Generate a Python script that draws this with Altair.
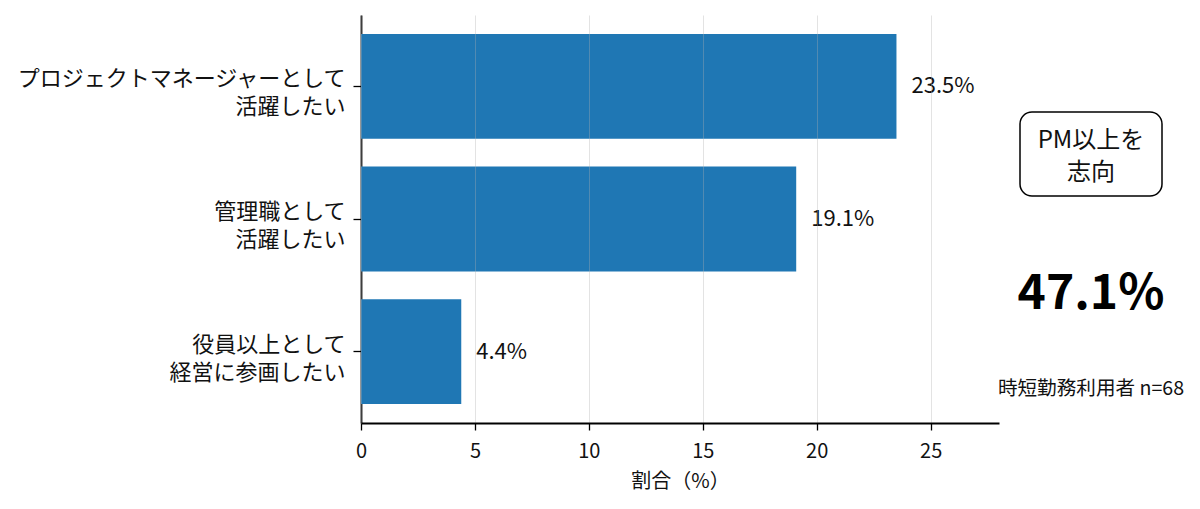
import altair as alt
import pandas as pd

categories = [
    "プロジェクトマネージャーとして\n活躍したい",
    "管理職として\n活躍したい",
    "役員以上として\n経営に参画したい",
]
values = [23.5, 19.1, 4.4]
x_ticks = [0, 5, 10, 15, 20, 25]
x_title = "割合（%）"
box_line1 = "PM以上を"
box_line2 = "志向"
big_text = "47.1%"
note_text = "時短勤務利用者 n=68"

FONT = "Noto Sans CJK JP"

df = pd.DataFrame({"category": categories, "value": values})

base = alt.Chart(df)

bars = base.mark_bar(color="#1f77b4").encode(
    y=alt.Y(
        "category:N",
        sort=categories,
        title=None,
        scale=alt.Scale(paddingInner=0.21, paddingOuter=0.143),
        axis=alt.Axis(
            labelExpr="split(datum.label, '\\n')",
            labelFontSize=22,
            labelLineHeight=28,
            labelLimit=0,
            labelColor="#111111",
            labelPadding=8,
            labelOffset=-7,
            tickSize=8,
            tickColor="black",
            tickWidth=1.3,
            domainColor="black",
            domainWidth=1.8,
            grid=False,
            labelAlign="right",
            labelBaseline="middle",
        ),
    ),
    x=alt.X(
        "value:Q",
        title=x_title,
        scale=alt.Scale(domain=[0, 28], nice=False),
        axis=alt.Axis(
            values=x_ticks,
            labelFontSize=20,
            labelColor="#111111",
            labelFlush=False,
            titleFontSize=20,
            titleFontWeight="normal",
            titleColor="#111111",
            titlePadding=10,
            tickSize=7,
            tickColor="black",
            tickWidth=1.3,
            domainColor="black",
            domainWidth=1.8,
            grid=True,
            gridColor="#b0b0b0",
            gridOpacity=0.35,
            gridWidth=1,
            zindex=1,
            labelPadding=11,
        ),
    ),
)

labels = base.transform_calculate(
    lab="format(datum.value, '.1f') + '%'"
).mark_text(
    align="left", baseline="middle", dx=15, fontSize=22, color="#111111", font=FONT
).encode(
    y=alt.Y("category:N", sort=categories),
    x="value:Q",
    text="lab:N",
)

ann = pd.DataFrame({"l1": [box_line1], "l2": [box_line2], "big": [big_text], "note": [note_text]})
ann_base = alt.Chart(ann)

box = ann_base.mark_rect(
    fill="white", stroke="black", strokeWidth=1.5, cornerRadius=12
).encode(
    x=alt.value(659), x2=alt.value(801), y=alt.value(97), y2=alt.value(181)
)

box_txt1 = ann_base.mark_text(
    align="center", baseline="middle", fontSize=24, color="#111111", font=FONT
).encode(x=alt.value(730), y=alt.value(126), text="l1:N")

box_txt2 = ann_base.mark_text(
    align="center", baseline="middle", fontSize=24, color="#111111", font=FONT
).encode(x=alt.value(730), y=alt.value(158), text="l2:N")

big_txt = ann_base.mark_text(
    align="center", baseline="middle", fontSize=48, fontWeight="bold",
    color="black", font=FONT
).encode(x=alt.value(730), y=alt.value(280), text="big:N")

note_txt = ann_base.mark_text(
    align="center", baseline="middle", fontSize=19.6, color="#111111", font=FONT
).encode(x=alt.value(730), y=alt.value(374), text="note:N")

chart = alt.layer(bars, labels, box, box_txt1, box_txt2, big_txt, note_txt).properties(
    width=638,
    height=408,
    autosize=alt.AutoSizeParams(type="none"),
    padding={"left": 353, "top": 7, "right": 190, "bottom": 70},
).configure(
    font=FONT,
).configure_view(
    stroke=None
).configure_axis(
    labelFont=FONT, titleFont=FONT
)

chart.save("out.html", embed_options={"renderer": "svg", "actions": False})
